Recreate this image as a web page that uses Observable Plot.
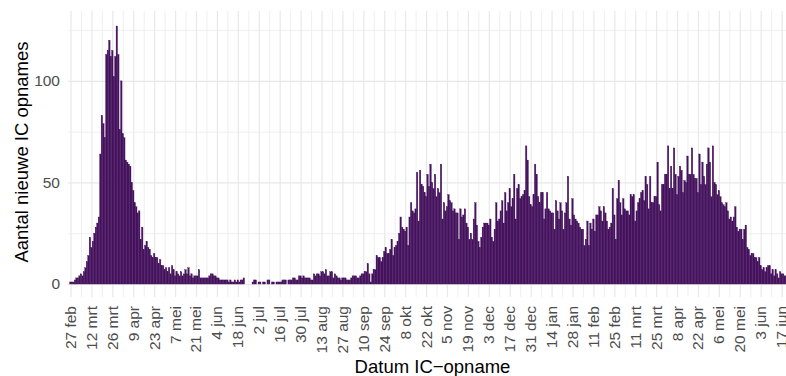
<!DOCTYPE html>
<html>
<head>
<meta charset="utf-8">
<script src="https://cdn.jsdelivr.net/npm/d3@7"></script>
<script src="https://cdn.jsdelivr.net/npm/@observablehq/plot@0.6"></script>
<style>
  html, body { margin: 0; padding: 0; background: #fff; overflow: hidden; }
  #chart svg { max-width: none !important; }
</style>
</head>
<body>
<div id="chart"></div>
<script>
// ---- data ----
const startDate = [2020, 1, 27]; // 27 feb 2020 (UTC, month 0-based)
const values = [
  1,1,1,2,3,3,4,5,4,6,8,11,14,23,18,21,25,28,30,33,
  64,83,79,72,113,115,120,112,115,102,112,127,113,76,100,74,72,61,60,59,
  58,50,46,40,38,35,36,22,28,17,19,21,18,17,14,13,15,13,13,10,
  12,9,9,7,8,6,8,5,9,7,4,6,5,4,6,4,5,7,5,8,
  4,5,3,4,4,4,7,3,3,3,3,3,3,4,5,5,4,4,3,3,
  2,2,2,2,2,2,1,2,1,1,2,1,2,1,2,2,3,0,0,0,
  0,0,1,2,2,0,1,1,0,1,1,0,2,2,0,1,1,0,1,1,
  1,1,2,2,2,0,2,2,2,3,3,2,2,4,4,3,4,3,3,3,
  3,2,2,5,4,5,5,4,6,6,5,7,4,4,6,6,3,5,4,3,
  3,2,3,3,3,2,2,2,3,4,4,4,3,3,4,5,5,6,6,10,
  5,1,5,7,7,14,13,13,11,13,16,18,15,15,17,22,14,18,19,21,
  25,33,28,27,26,28,19,33,40,36,35,37,55,31,56,49,48,45,43,54,
  48,59,50,47,54,43,47,45,59,32,40,36,38,44,41,40,36,37,35,35,
  22,37,33,34,37,30,28,22,25,22,32,40,29,21,18,23,28,30,30,30,
  29,32,23,21,27,40,31,32,36,41,30,45,36,40,47,38,42,54,32,47,
  49,42,43,44,46,68,61,43,39,38,44,59,54,43,40,45,45,32,37,45,
  37,36,35,35,27,41,36,32,40,36,27,35,40,53,32,29,42,34,32,31,
  30,28,27,27,19,22,31,19,30,27,32,26,34,34,38,36,31,38,35,31,
  27,28,30,47,34,22,42,51,40,34,42,37,36,36,34,44,43,44,31,36,
  40,42,45,46,41,53,49,37,53,40,40,43,43,60,39,36,49,49,54,54,
  68,47,58,47,67,54,44,53,58,56,45,51,50,63,54,54,67,54,52,52,
  45,64,49,60,53,49,59,67,60,43,68,50,49,44,46,43,40,39,38,40,
  36,32,33,31,33,38,28,26,27,27,22,27,29,18,17,14,15,15,13,13,
  11,13,9,7,8,6,8,9,9,5,7,4,7,5,3,6,5,5,4,4
];
const tickLabels = [
  "27 feb","12 mrt","26 mrt","9 apr","23 apr","7 mei","21 mei","4 jun","18 jun",
  "2 jul","16 jul","30 jul","13 aug","27 aug","10 sep","24 sep","8 okt","22 okt",
  "5 nov","19 nov","3 dec","17 dec","31 dec","14 jan","28 jan","11 feb","25 feb",
  "11 mrt","25 mrt","8 apr","22 apr","6 mei","20 mei","3 jun","17 jun"
];
const yTicks = [0, 50, 100];
const yMinorTicks = [25, 75, 125];
const xTitle = "Datum IC\u2212opname";
const yTitle = "Aantal nieuwe IC opnames";

// ---- build ----
const DAY = 864e5;
const t0 = Date.UTC(startDate[0], startDate[1], startDate[2]);
const data = values.map((v, i) => ({date: new Date(t0 + i * DAY), value: v}));
const majorDates = tickLabels.map((_, i) => new Date(t0 + i * 14 * DAY));
const minorDates = tickLabels.map((_, i) => new Date(t0 + (i * 14 + 7) * DAY));

const barColor = "#45125d";
const gridColor = "#ebebeb";
const font = "'Liberation Sans', Arial, Helvetica, sans-serif";

const chart = Plot.plot({
  width: 800,
  height: 380,
  marginLeft: 68,
  marginRight: 4,
  marginTop: 11,
  marginBottom: 83,
  style: {fontFamily: font, background: "#fff", overflow: "visible", maxWidth: "none"},
  x: {type: "utc", domain: [new Date(t0 - 1.673 * DAY), new Date(t0 + 485.61 * DAY)], axis: null},
  y: {domain: [-6.4, 134.4], axis: null},
  marks: [
    Plot.ruleX(minorDates, {x: d => d, stroke: gridColor, strokeWidth: 0.8}),
    Plot.ruleX(majorDates, {x: d => d, stroke: "#e8e8e8", strokeWidth: 1.2}),
    Plot.ruleY(yMinorTicks, {y: d => d, stroke: gridColor, strokeWidth: 0.8}),
    Plot.ruleY(yTicks, {y: d => d, stroke: "#e8e8e8", strokeWidth: 1.2}),
    Plot.rect(data, {
      x1: d => new Date(+d.date - DAY / 2),
      x2: d => new Date(+d.date + DAY / 2),
      y1: 0,
      y2: "value",
      fill: barColor,
      stroke: barColor,
      strokeWidth: 0.35
    }),
    Plot.text(yTicks, {
      y: d => d, frameAnchor: "left", dx: -8.5, textAnchor: "end",
      text: d => String(d), fill: "#4d4d4d", fontSize: 15.5
    }),
    Plot.text(majorDates, {
      x: d => d, frameAnchor: "bottom", dy: 8.5, rotate: -90,
      textAnchor: "end", lineAnchor: "middle",
      text: (d, i) => tickLabels[i], fill: "#4d4d4d", fontSize: 15.5
    }),
    Plot.text([xTitle], {
      frameAnchor: "bottom", dy: 75.7, lineAnchor: "bottom", textAnchor: "middle",
      text: d => d, fill: "#000", fontSize: 18.5
    }),
    Plot.text([yTitle], {
      frameAnchor: "left", dx: -41, dy: -2.5, rotate: -90, lineAnchor: "bottom",
      textAnchor: "middle",
      text: d => d, fill: "#000", fontSize: 18.5
    })
  ]
});
document.getElementById("chart").appendChild(chart);
</script>
</body>
</html>
